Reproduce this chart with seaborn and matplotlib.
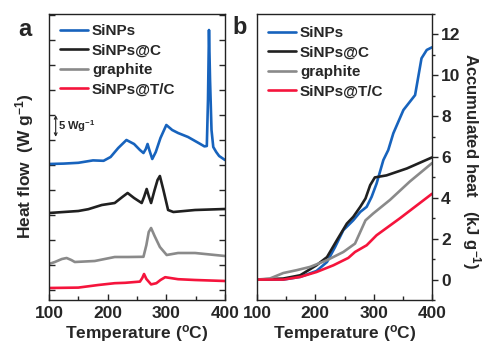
import matplotlib
matplotlib.use("Agg")
import matplotlib.pyplot as plt
from matplotlib.ticker import MultipleLocator, FixedLocator
import seaborn as sns

# ---------------- data ----------------
names = ["SiNPs", "SiNPs@C", "graphite", "SiNPs@T/C"]
colors = ["#1763bd", "#202020", "#8a8a8a", "#f5143c"]

# panel a: heat flow (W/g, curves offset vertically)
a_sinps_T = [100, 125, 150, 175, 193, 205, 218, 232, 245, 255, 261, 265, 268, 271, 276, 282, 290,
             300, 310, 320, 337, 355, 365, 369, 371, 372.7, 374.5, 377, 380, 385, 390, 395, 400]
a_sinps_v = [34.0, 34.1, 34.3, 34.9, 34.8, 35.75, 38.0, 40.0, 39.0, 37.5, 36.75, 37.75, 39.0, 37.5,
             35.25, 37.0, 40.5, 43.75, 42.5, 41.75, 40.75, 39.25, 38.4, 38.5, 50.0, 67.5, 55.0, 42.5,
             38.25, 37.0, 36.0, 35.5, 35.0]

a_sic_T = [100, 150, 167, 190, 212, 225, 234, 245, 258, 262, 266.5, 270, 274, 280, 285, 289, 295,
           303, 312, 349, 400]
a_sic_v = [21.75, 22.25, 22.7, 23.75, 24.25, 25.75, 26.75, 25.5, 24.25, 25.75, 27.75, 26.0, 24.25,
           27.5, 30.0, 31.0, 27.5, 22.5, 22.0, 22.5, 22.75]

a_gr_T = [100, 110, 122, 130, 138, 144, 178, 212, 235, 261, 266, 270, 274, 280, 289, 300.6, 320, 349, 400]
a_gr_v = [9.0, 9.5, 10.25, 10.5, 10.0, 9.5, 9.75, 10.75, 10.75, 10.8, 13.75, 17.0, 18.0, 16.0, 13.25,
          11.25, 11.75, 11.75, 11.0]

a_stc_T = [100, 150, 184, 212, 230, 255, 259, 262, 266, 274, 283, 290, 298, 320, 349, 400]
a_stc_v = [3.0, 3.1, 3.75, 4.2, 4.3, 4.6, 5.5, 6.5, 5.25, 3.9, 4.2, 5.0, 5.7, 5.2, 5.0, 4.75]

# panel b: accumulated heat (kJ/g)
b_sinps_T = [100, 145, 174, 202, 220, 234, 248, 265, 277, 288, 296.5, 305, 316.6, 325, 333.7, 351,
             371, 376.5, 382, 391, 400]
b_sinps_v = [0, 0, 0.13, 0.42, 0.86, 1.6, 2.42, 2.9, 3.31, 3.56, 4.05, 4.7, 5.85, 6.34, 7.16, 8.3,
             9.03, 9.93, 10.83, 11.24, 11.37]

b_sic_T = [100, 145, 174, 202, 220, 237, 254, 265, 277, 286, 294, 302, 322, 357, 400]
b_sic_v = [0, 0.05, 0.21, 0.7, 1.1, 1.93, 2.74, 3.07, 3.56, 3.97, 4.62, 5.0, 5.1, 5.44, 5.98]

b_gr_T = [100, 122, 145, 168, 191, 220, 248, 268, 286, 299, 328, 362, 400]
b_gr_v = [0, 0.05, 0.32, 0.46, 0.62, 0.95, 1.35, 1.76, 2.9, 3.23, 3.9, 4.8, 5.7]

b_stc_T = [100, 145, 174, 202, 231, 256.5, 268, 288, 305, 345, 400]
b_stc_v = [0, 0, 0.13, 0.37, 0.7, 1.06, 1.35, 1.68, 2.17, 3.0, 4.2]

x_ticks = [100, 200, 300, 400]
b_yticks = [0, 2, 4, 6, 8, 10, 12]

# ---------------- style ----------------
sns.set_style("ticks")
plt.rcParams["font.family"] = ["Liberation Sans", "DejaVu Sans"]
plt.rcParams["font.weight"] = "bold"
plt.rcParams["mathtext.fontset"] = "custom"
plt.rcParams["mathtext.rm"] = "Liberation Sans:bold"
plt.rcParams["mathtext.it"] = "Liberation Sans:bold"
plt.rcParams["mathtext.bf"] = "Liberation Sans:bold"
plt.rcParams["mathtext.default"] = "rm"

W, H = 483, 349
fig = plt.figure(figsize=(W / 100, H / 100), dpi=100)
axa = fig.add_axes([49 / W, 1 - 300 / H, 176 / W, 286 / H])
axb = fig.add_axes([257 / W, 1 - 300 / H, 175 / W, 286 / H])

lw = 1.9
a_sets = [(a_sinps_T, a_sinps_v), (a_sic_T, a_sic_v), (a_gr_T, a_gr_v), (a_stc_T, a_stc_v)]
b_sets = [(b_sinps_T, b_sinps_v), (b_sic_T, b_sic_v), (b_gr_T, b_gr_v), (b_stc_T, b_stc_v)]
for (t, v), n, c in zip(a_sets, names, colors):
    sns.lineplot(x=t, y=v, ax=axa, color=c, lw=lw, label=n, sort=False)
for (t, v), n, c in zip(b_sets, names, colors):
    sns.lineplot(x=t, y=v, ax=axb, color=c, lw=lw, label=n, sort=False)

tick_fs = 12.5
for ax, anchor in ((axa, (0.0625, 0.965)), (axb, (0.063, 0.958))):
    ax.set_xlim(100, 400)
    ax.xaxis.set_major_locator(FixedLocator(x_ticks))
    ax.xaxis.set_minor_locator(MultipleLocator(50))
    ax.tick_params(axis="x", which="both", direction="in", top=False, labelsize=tick_fs, pad=4)
    ax.tick_params(axis="x", which="major", length=4, width=1)
    ax.tick_params(axis="x", which="minor", length=3, width=1)
    for s in ax.spines.values():
        s.set_linewidth(1.0)
        s.set_color("#222222")
    ax.set_xlabel("Temperature ($^{\\rm o}$C)", fontsize=12.5, fontweight="bold", labelpad=2)
    for lab in ax.get_xticklabels():
        lab.set_fontweight("bold")
    leg = ax.legend(loc="upper left", bbox_to_anchor=anchor, frameon=False, fontsize=11,
                    handlelength=1.85, handletextpad=0.25, labelspacing=0.36, borderaxespad=0,
                    borderpad=0)
    for txt in leg.get_texts():
        txt.set_fontweight("bold")

# panel a y
axa.set_ylim(0, 71.5)
axa.yaxis.set_major_locator(MultipleLocator(6.25, offset=2.5))
axa.tick_params(axis="y", which="both", direction="in", left=True, right=True,
                labelleft=False, length=4, width=1)
axa.set_ylabel("Heat flow  (W g$^{-1}$)", fontsize=12.5, fontweight="bold")
axa.yaxis.set_label_coords(-0.075, 0.47)

# scale bar
axa.annotate("", xy=(111.4, 46.2), xytext=(111.4, 40.8),
             arrowprops=dict(arrowstyle="<->", lw=0.8, color="#222222",
                             mutation_scale=5, shrinkA=0, shrinkB=0))
axa.text(116, 43.5, "5 Wg$^{-1}$", fontsize=8, fontweight="bold", va="center", ha="left")

# panel b y
axb.set_ylim(-1, 13)
axb.yaxis.set_major_locator(FixedLocator(b_yticks))
axb.yaxis.set_minor_locator(MultipleLocator(1, offset=1))
axb.yaxis.tick_right()
axb.yaxis.set_label_position("right")
axb.tick_params(axis="y", which="both", direction="out", left=False, right=True,
                labelright=True, labelleft=False, labelsize=tick_fs, width=1, pad=2.5)
axb.tick_params(axis="y", which="major", length=4)
axb.tick_params(axis="y", which="minor", length=2.5)
for lab in axb.get_yticklabels():
    lab.set_fontweight("bold")
axb.set_ylabel("Accumulated heat   (kJ g$^{-1}$)", fontsize=12, fontweight="bold",
               rotation=270)
axb.yaxis.set_label_coords(1.292, 0.486)

fig.text(18 / W, 1 - 36 / H, "a", fontsize=17, fontweight="bold")
fig.text(232 / W, 1 - 34 / H, "b", fontsize=17, fontweight="bold")

fig.savefig("out.png", dpi=100)
